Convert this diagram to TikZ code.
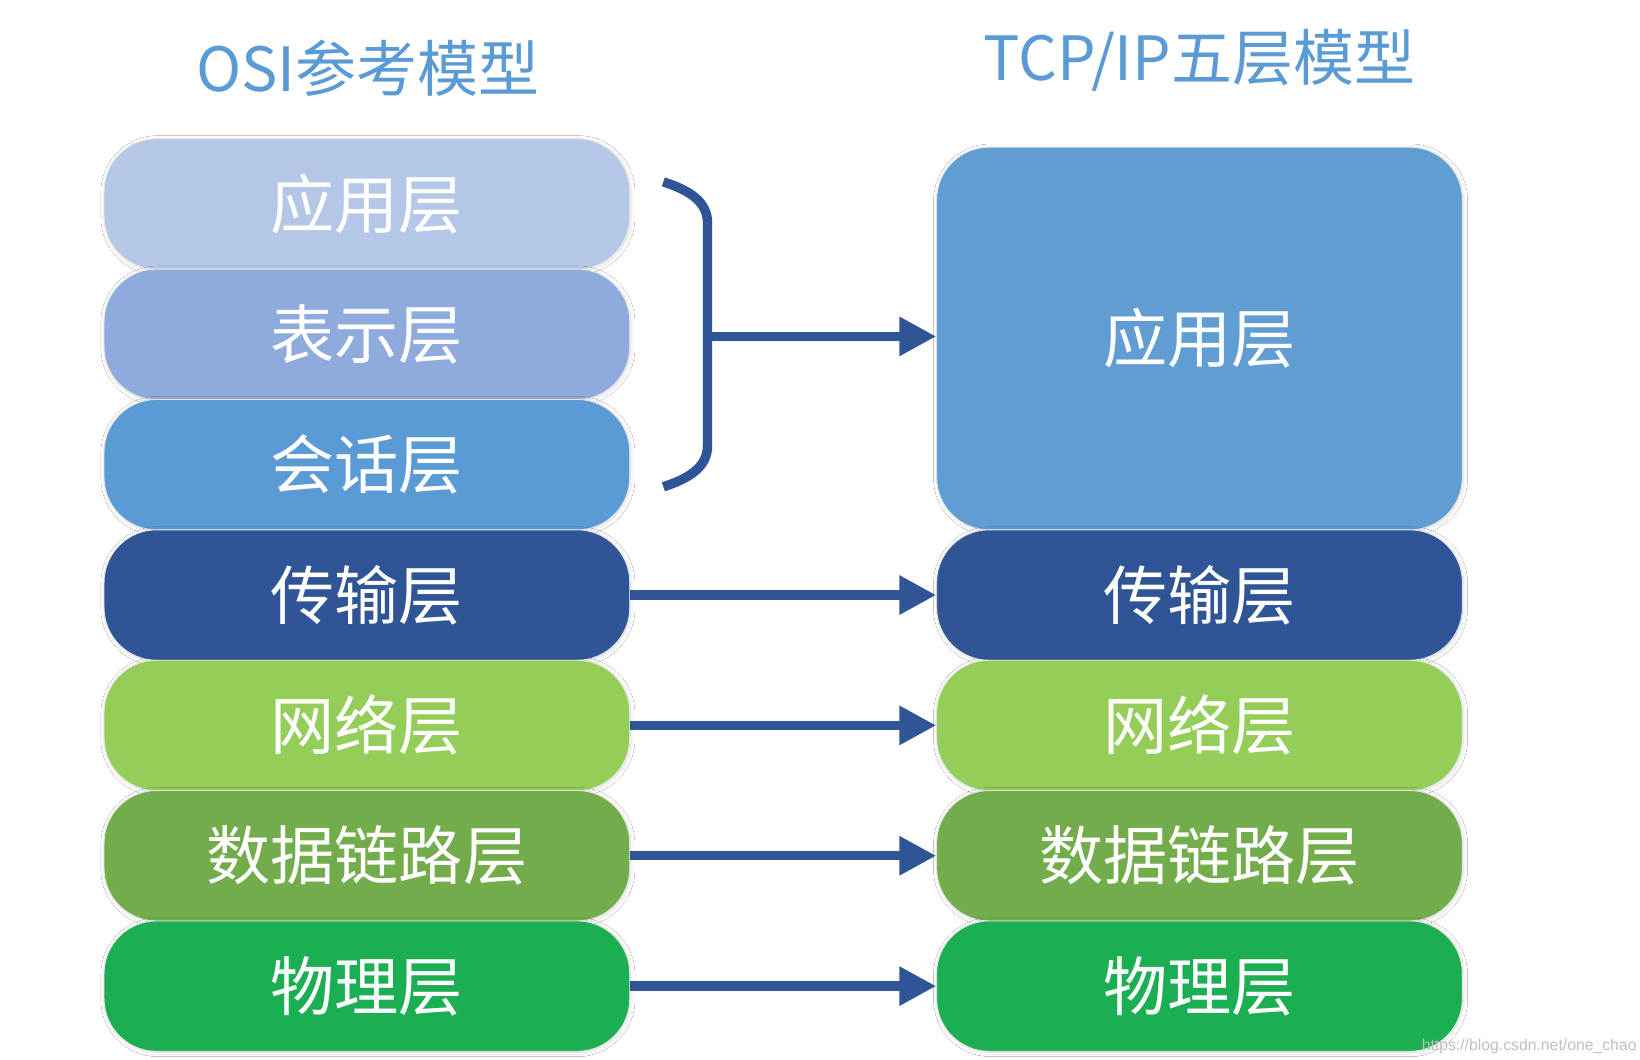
\documentclass[tikz,border=0pt]{standalone}
\usepackage{fontspec}
\setmainfont{Liberation Sans}
\newfontfamily\cjk{Noto Sans CJK SC}
\usetikzlibrary{arrows.meta,shadows.blur}
\definecolor{titlec}{HTML}{5B9BD5}
\definecolor{appc}{HTML}{B4C7E7}
\definecolor{prec}{HTML}{8FAADC}
\definecolor{sesc}{HTML}{5B9BD5}
\definecolor{trac}{HTML}{2F5597}
\definecolor{netc}{HTML}{94CE58}
\definecolor{linkc}{HTML}{72AC4B}
\definecolor{phyc}{HTML}{1BAE53}
\definecolor{tappc}{HTML}{5F9DD3}
\definecolor{arrowc}{HTML}{2F5597}
\begin{document}
\begin{tikzpicture}[x=0.5pt,y=-0.5pt,
  layer/.style={rounded corners=25pt, minimum width=250pt, minimum height=62pt,
    inner sep=0pt, text=white, font=\cjk\fontsize{30.5}{36}\selectfont,
    draw=black!10, line width=0.4pt,
    blur shadow={shadow xshift=0.5pt, shadow yshift=-0.5pt, shadow blur steps=6,
      shadow opacity=14, shadow blur radius=2pt}},
  link/.style={draw=arrowc, line width=4.5pt, -{Triangle[length=17.5pt,width=17.5pt]}},
  brace/.style={draw=arrowc, line width=4.5pt},
  title/.style={text=titlec, inner sep=0pt, font=\cjk\fontsize{29}{34}\selectfont},
  wmark/.style={text=black!25, inner sep=0pt, font=\fontsize{7.5}{9}\selectfont}]
\useasboundingbox (0,0) rectangle (1560,1008);
\fill[white] (0,0) rectangle (1560,1008);

% titles
\node[title] (tosi) at (350,65) {OSI参考模型};
\node[title] (ttcp) at (1141,57) {TCP/IP五层模型};

% OSI column
\node[layer, fill=appc] (app) at (349,194) {应用层};
\node[layer, fill=prec] (pre) at (349,318) {表示层};
\node[layer, fill=sesc] (ses) at (349,442) {会话层};
\node[layer, fill=trac] (tra) at (349,566) {传输层};
\node[layer, fill=netc] (net) at (349,690) {网络层};
\node[layer, fill=linkc] (lnk) at (349,814) {数据链路层};
\node[layer, fill=phyc] (phy) at (349,938) {物理层};

% TCP/IP column
\node[layer, fill=tappc, minimum height=182pt] (tapp) at (1141,322) {应用层};
\node[layer, fill=trac] (ttra) at (1141,566) {传输层};
\node[layer, fill=netc] (tnet) at (1141,690) {网络层};
\node[layer, fill=linkc] (tlnk) at (1141,814) {数据链路层};
\node[layer, fill=phyc] (tphy) at (1141,938) {物理层};

% bracket
\coordinate (btop) at (631,173);
\coordinate (bbot) at (631,463);
\coordinate (brk) at (673,320);
\draw[brace] (btop) .. controls (656,181) and (673,192) .. (673,212)
  -- (673,424) .. controls (673,444) and (656,455) .. (bbot);
\draw[link] (brk) -- (brk -| tapp.west);

% arrows
\draw[link] (tra.east) -- (ttra.west);
\draw[link] (net.east) -- (tnet.west);
\draw[link] (lnk.east) -- (tlnk.west);
\draw[link] (phy.east) -- (tphy.west);

% watermark
\node[wmark, anchor=west] (wm) at (1352,995) {https://blog.csdn.net/one\_chao};
\end{tikzpicture}
\end{document}
